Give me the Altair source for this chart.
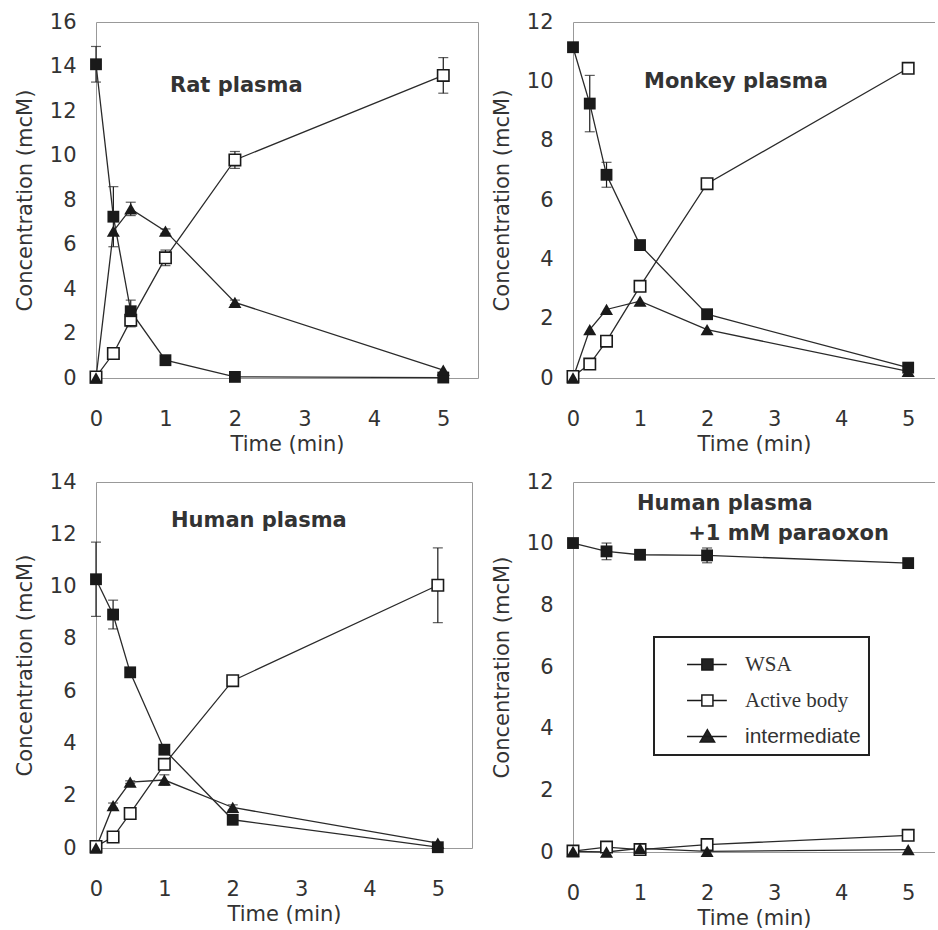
import altair as alt
import pandas as pd

series_names = ["WSA", "Active body", "intermediate"]

# ---- Rat plasma ----
rat_time = [0, 0.25, 0.5, 1, 2, 5]
rat_wsa = [14.1, 7.25, 3.0, 0.8, 0.05, 0.02]
rat_wsa_err = [0.8, 1.35, 0.5, 0.1, 0.0, 0.0]
rat_active = [0.05, 1.1, 2.6, 5.4, 9.8, 13.6]
rat_active_err = [0.0, 0.1, 0.3, 0.35, 0.38, 0.8]
rat_inter = [0.0, 6.6, 7.6, 6.6, 3.4, 0.35]
rat_inter_err = [0.0, 0.0, 0.3, 0.1, 0.1, 0.0]

# ---- Monkey plasma ----
mon_time = [0, 0.25, 0.5, 1, 2, 5]
mon_wsa = [11.15, 9.25, 6.85, 4.48, 2.15, 0.35]
mon_wsa_err = [0.15, 0.95, 0.42, 0.12, 0.08, 0.05]
mon_active = [0.05, 0.47, 1.24, 3.09, 6.55, 10.44]
mon_active_err = [0.0, 0.0, 0.0, 0.0, 0.0, 0.0]
mon_inter = [0.0, 1.63, 2.31, 2.59, 1.63, 0.22]
mon_inter_err = [0.0, 0.0, 0.0, 0.0, 0.0, 0.0]

# ---- Human plasma ----
hum_time = [0, 0.25, 0.5, 1, 2, 5]
hum_wsa = [10.28, 8.93, 6.72, 3.76, 1.08, 0.03]
hum_wsa_err = [1.42, 0.55, 0.1, 0.15, 0.1, 0.0]
hum_active = [0.06, 0.42, 1.32, 3.2, 6.4, 10.05]
hum_active_err = [0.0, 0.1, 0.0, 0.2, 0.1, 1.43]
hum_inter = [0.0, 1.62, 2.52, 2.6, 1.55, 0.19]
hum_inter_err = [0.0, 0.1, 0.05, 0.2, 0.1, 0.0]

# ---- Human plasma + 1 mM paraoxon ----
par_time = [0, 0.5, 1, 2, 5]
par_wsa = [10.02, 9.75, 9.64, 9.62, 9.37]
par_wsa_err = [0.05, 0.27, 0.05, 0.24, 0.08]
par_active = [0.03, 0.16, 0.08, 0.24, 0.54]
par_active_err = [0.0, 0.0, 0.0, 0.0, 0.0]
par_inter = [0.02, 0.0, 0.12, 0.02, 0.08]
par_inter_err = [0.0, 0.0, 0.0, 0.0, 0.0]

x_ticks = [0, 1, 2, 3, 4, 5]

# legend symbols (line + marker) as custom paths
legend_paths = [
    "M0.3,0H1.1M1.7,0H2.45M1.1,-0.3H1.7V0.3H1.1Z",
    "M0.3,0H1.1M1.7,0H2.45M1.1,-0.3H1.7V0.3H1.1Z",
    "M0.3,0H2.45M1.4,-0.36L1.79,0.3H1.01Z",
]
legend_fills = ["#222222", "white", "#222222"]

FONT = "DejaVu Sans"
TXT = "#333333"
INK = "#1a1a1a"


def build(time, vals, errs):
    rows = []
    for name, v_list, e_list in zip(series_names, vals, errs):
        for t, v, e in zip(time, v_list, e_list):
            rows.append(dict(time=t, series=name, value=v, lo=v - e, hi=v + e, err=e))
    return pd.DataFrame(rows)


def panel(df, ymax, xmax, width, height, title, right_border, legend=False):
    xs = alt.Scale(domain=[0, xmax], nice=False, zero=False)
    ys = alt.Scale(domain=[0, ymax], nice=False)
    xaxis = alt.Axis(values=x_ticks, format="d", title="Time (min)", labelFlush=False)
    yaxis = alt.Axis(values=list(range(0, ymax + 1, 2)), format="d",
                     title="Concentration (mcM)", labelFlush=False)

    def X():
        return alt.X("time:Q", scale=xs, axis=xaxis, title="Time (min)")

    def Y(f):
        return alt.Y(f"{f}:Q", scale=ys, axis=yaxis, title="Concentration (mcM)")

    base = alt.Chart(df)
    errs = base.transform_filter("datum.err > 0").mark_errorbar(
        color=INK, thickness=1.2, ticks={"size": 10, "thickness": 1.2}
    ).encode(x=X(), y=Y("lo"), y2="hi:Q")
    lines = base.mark_line(color="#2a2a2a", strokeWidth=1.3).encode(
        x=X(), y=Y("value"), detail="series:N")
    open_sq = base.transform_filter(alt.datum.series == "Active body").mark_point(
        shape="square", filled=True, fill="white", stroke=INK, strokeWidth=1.6,
        size=130, opacity=1).encode(x=X(), y=Y("value"))
    fill_sq = base.transform_filter(alt.datum.series == "WSA").mark_point(
        shape="square", filled=True, color=INK, size=140, opacity=1).encode(
        x=X(), y=Y("value"))
    tri = base.transform_filter(alt.datum.series == "intermediate").mark_point(
        shape="triangle-up", filled=True, color=INK, size=170, opacity=1).encode(
        x=X(), y=Y("value"))
    main = alt.layer(errs, lines, open_sq, fill_sq, tri)

    frame = base.mark_point(opacity=0).encode(
        x=alt.X("time:Q", scale=xs,
                axis=alt.Axis(orient="top", labels=False, ticks=False, title=None,
                              domain=True, grid=False)),
        y=alt.Y("value:Q", scale=ys,
                axis=(alt.Axis(orient="right", labels=False, ticks=False, title=None,
                               domain=True, grid=False) if right_border else None)),
    )
    layers = [main, frame]
    if legend:
        leg = alt.Legend(
            title=None, orient="none", legendX=81, legendY=155,
            padding=8, rowPadding=6, labelOffset=44, symbolSize=1369,
            symbolStrokeColor=INK, symbolStrokeWidth=1.5, symbolOpacity=1,
            labelFontSize=21, labelColor=TXT,
            labelFont=alt.ExprRef(expr="datum.label == 'intermediate' ? 'Liberation Sans' : 'Liberation Serif'"),
            strokeColor="#222222", fillColor="white",
        )
        leg_layer = base.transform_filter("false").mark_point(
            filled=True, strokeWidth=1.5).encode(
            x=alt.X("time:Q", scale=xs, axis=None),
            y=alt.Y("value:Q", scale=ys, axis=None),
            shape=alt.Shape("series:N", scale=alt.Scale(domain=series_names, range=legend_paths), legend=leg),
            fill=alt.Fill("series:N", scale=alt.Scale(domain=series_names, range=legend_fills), legend=leg),
            stroke=alt.Stroke("series:N", scale=alt.Scale(domain=series_names, range=[INK, INK, INK]), legend=leg),
        )
        layers.append(leg_layer)
    return alt.layer(*layers).resolve_axis(x="independent", y="independent").properties(
        width=width, height=height, title=title)


def ttl(text, dx, dy, subtitle=None):
    kw = dict(text=text, anchor="start", frame="group", dx=dx, dy=dy, offset=0,
              font=FONT, fontSize=21, fontWeight="bold", color=TXT, baseline="top")
    if subtitle:
        kw.update(subtitle=subtitle, subtitleFont=FONT, subtitleFontSize=21,
                  subtitleFontWeight="bold", subtitleColor=TXT, subtitlePadding=9)
    return alt.TitleParams(**kw)


df_rat = build(rat_time, [rat_wsa, rat_active, rat_inter], [rat_wsa_err, rat_active_err, rat_inter_err])
df_mon = build(mon_time, [mon_wsa, mon_active, mon_inter], [mon_wsa_err, mon_active_err, mon_inter_err])
df_hum = build(hum_time, [hum_wsa, hum_active, hum_inter], [hum_wsa_err, hum_active_err, hum_inter_err])
df_par = build(par_time, [par_wsa, par_active, par_inter], [par_wsa_err, par_active_err, par_inter_err])

p1 = panel(df_rat, 16, 5.5, 382, 356, ttl("Rat plasma", 74, 85), True)
p2 = panel(df_mon, 12, 5.4, 362, 356, ttl("Monkey plasma", 71, 81), False)
p3 = panel(df_hum, 14, 5.5, 376, 366, ttl("Human plasma", 75, 60), True)
p4 = panel(df_par, 12, 5.4, 362, 370,
           ttl("Human plasma", 64, 73, subtitle="\u200b" + "\u00a0" * 7 + "+1 mM paraoxon"),
           False, legend=True)

chart = alt.concat(
    p1, p2, p3, p4, columns=2, spacing={"row": 104, "column": 95}, bounds="flush"
).resolve_scale(
    shape="independent", fill="independent", stroke="independent"
).properties(
    padding={"left": 14, "top": 11, "right": 0, "bottom": 0},
    background="white",
).configure_view(stroke=None).configure_axis(
    labelFont=FONT, labelFontSize=21, labelColor=TXT,
    titleFont=FONT, titleFontSize=21, titleFontWeight="normal", titleColor=TXT,
    domainColor="#999999", domainWidth=1, ticks=False, grid=False,
).configure_axisX(labelPadding=30, titlePadding=4).configure_axisY(
    labelPadding=20, titlePadding=14
).configure_legend(strokeWidth=2)

chart.save("out.html", embed_options={"renderer": "svg", "actions": False})
